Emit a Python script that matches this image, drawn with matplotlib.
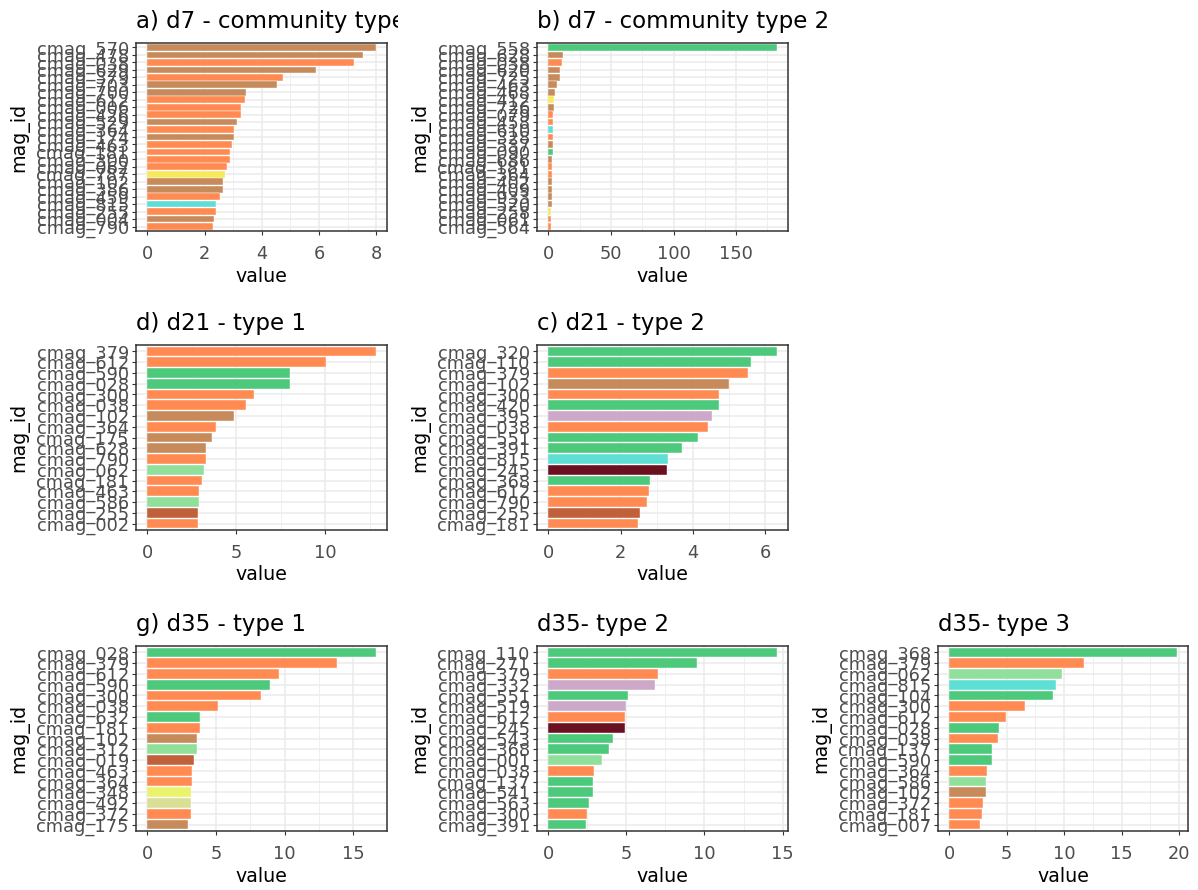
import matplotlib
matplotlib.use("Agg")
import matplotlib.pyplot as plt
from matplotlib.ticker import MultipleLocator
from matplotlib.transforms import Bbox, TransformedBbox

W, H = 1198, 890
fig = plt.figure(figsize=(W / 100, H / 100), dpi=100)
plt.rcParams['font.family'] = ['DejaVu Sans']

palette = {
    "brown": "#C68A5B", "orange": "#FF8B53", "green": "#4DC97B",
    "lightgreen": "#90E09B", "cyan": "#5EDFD3", "yellow": "#F7E95A",
    "lilac": "#CCA8C9", "maroon": "#6A1020", "sienna": "#C0613C",
    "yellowgreen": "#E9F36B", "khaki": "#D9E096",
}

# ---- a) d7 - community type 1
a_ids = ["cmag_570", "cmag_478", "cmag_038", "cmag_629", "cmag_379", "cmag_703", "cmag_700",
         "cmag_612", "cmag_006", "cmag_426", "cmag_529", "cmag_364", "cmag_174", "cmag_463",
         "cmag_181", "cmag_300", "cmag_062", "cmag_787", "cmag_102", "cmag_386", "cmag_459",
         "cmag_815", "cmag_255", "cmag_004", "cmag_790"]
a_vals = [7.98, 7.54, 7.22, 5.91, 4.75, 4.54, 3.46, 3.40, 3.29, 3.29, 3.13, 3.03, 3.03,
          2.97, 2.88, 2.88, 2.77, 2.71, 2.66, 2.66, 2.55, 2.40, 2.40, 2.34, 2.30]
a_grp = ["brown", "brown", "orange", "brown", "orange", "brown", "brown", "orange", "orange",
         "orange", "brown", "orange", "brown", "orange", "orange", "orange", "orange", "yellow",
         "brown", "brown", "orange", "cyan", "orange", "brown", "orange"]

# ---- b) d7 - community type 2
b_ids = ["cmag_558", "cmag_628", "cmag_038", "cmag_620", "cmag_725", "cmag_463", "cmag_468",
         "cmag_412", "cmag_726", "cmag_079", "cmag_458", "cmag_610", "cmag_328", "cmag_537",
         "cmag_090", "cmag_686", "cmag_181", "cmag_364", "cmag_402", "cmag_409", "cmag_933",
         "cmag_520", "cmag_258", "cmag_061", "cmag_564"]
b_vals = [182.4, 12.0, 10.5, 9.5, 9.0, 6.5, 5.5, 4.8, 4.5, 3.6, 3.5, 3.5, 3.4, 3.4, 3.3,
          3.2, 3.2, 3.1, 3.0, 3.0, 2.6, 2.5, 2.2, 2.1, 2.0]
b_grp = ["green", "brown", "orange", "brown", "brown", "brown", "brown", "yellow", "brown",
         "orange", "orange", "cyan", "orange", "brown", "green", "brown", "orange", "orange",
         "brown", "brown", "brown", "brown", "yellow", "orange", "orange"]

# ---- d) d21 - type 1
d_ids = ["cmag_379", "cmag_612", "cmag_590", "cmag_028", "cmag_300", "cmag_038", "cmag_102",
         "cmag_364", "cmag_175", "cmag_628", "cmag_790", "cmag_062", "cmag_181", "cmag_463",
         "cmag_586", "cmag_255", "cmag_002"]
d_vals = [12.84, 10.04, 8.0, 8.0, 5.98, 5.55, 4.86, 3.87, 3.61, 3.27, 3.27, 3.18, 3.10,
          2.93, 2.93, 2.84, 2.84]
d_grp = ["orange", "orange", "green", "green", "orange", "orange", "brown", "orange", "brown",
         "brown", "orange", "lightgreen", "orange", "orange", "lightgreen", "sienna", "orange"]

# ---- c) d21 - type 2
c_ids = ["cmag_320", "cmag_110", "cmag_379", "cmag_102", "cmag_300", "cmag_420", "cmag_395",
         "cmag_038", "cmag_551", "cmag_391", "cmag_815", "cmag_245", "cmag_368", "cmag_612",
         "cmag_790", "cmag_255", "cmag_181"]
c_vals = [6.31, 5.60, 5.52, 4.99, 4.73, 4.73, 4.52, 4.40, 4.14, 3.69, 3.31, 3.27, 2.81,
          2.77, 2.73, 2.53, 2.48]
c_grp = ["green", "green", "orange", "brown", "orange", "green", "lilac", "orange", "green",
         "green", "cyan", "maroon", "green", "orange", "orange", "sienna", "orange"]

# ---- g) d35 - type 1
g_ids = ["cmag_028", "cmag_379", "cmag_612", "cmag_590", "cmag_300", "cmag_038", "cmag_632",
         "cmag_181", "cmag_102", "cmag_312", "cmag_019", "cmag_463", "cmag_364", "cmag_348",
         "cmag_492", "cmag_372", "cmag_175"]
g_vals = [16.62, 13.79, 9.60, 8.95, 8.30, 5.13, 3.80, 3.80, 3.58, 3.58, 3.36, 3.24, 3.24,
          3.15, 3.15, 3.15, 2.93]
g_grp = ["green", "orange", "orange", "green", "orange", "orange", "green", "orange", "brown",
         "lightgreen", "sienna", "orange", "orange", "yellowgreen", "khaki", "orange", "brown"]

# ---- d35- type 2
e_ids = ["cmag_110", "cmag_271", "cmag_379", "cmag_332", "cmag_551", "cmag_519", "cmag_612",
         "cmag_245", "cmag_543", "cmag_368", "cmag_001", "cmag_038", "cmag_137", "cmag_541",
         "cmag_563", "cmag_300", "cmag_391"]
e_vals = [14.62, 9.51, 7.00, 6.81, 5.09, 5.00, 4.89, 4.89, 4.11, 3.91, 3.43, 2.94, 2.85,
          2.85, 2.57, 2.47, 2.38]
e_grp = ["green", "green", "orange", "lilac", "green", "lilac", "orange", "maroon", "green",
         "green", "lightgreen", "orange", "green", "green", "green", "orange", "green"]

# ---- d35- type 3
f_ids = ["cmag_368", "cmag_379", "cmag_062", "cmag_815", "cmag_104", "cmag_300", "cmag_612",
         "cmag_028", "cmag_038", "cmag_137", "cmag_590", "cmag_364", "cmag_586", "cmag_102",
         "cmag_372", "cmag_181", "cmag_007"]
f_vals = [19.80, 11.69, 9.84, 9.32, 9.06, 6.58, 4.91, 4.36, 4.21, 3.69, 3.69, 3.32, 3.17,
          3.17, 2.91, 2.80, 2.66]
f_grp = ["green", "orange", "lightgreen", "cyan", "green", "orange", "orange", "green",
         "orange", "green", "green", "orange", "lightgreen", "brown", "orange", "orange", "orange"]

titles = ["a) d7 - community type 1", "b) d7 - community type 2", "d) d21 - type 1",
          "c) d21 - type 2", "g) d35 - type 1", "d35- type 2", "d35- type 3"]


def panel(box, title, ids, vals, grps, step, clip_right=None):
    l, t, r, b = box
    ax = fig.add_axes([l / W, 1 - b / H, (r - l) / W, (b - t) / H])
    n = len(ids)
    pos = list(range(n))
    ax.barh(pos, vals, height=0.9, color=[palette[g] for g in grps],
            edgecolor="white", linewidth=0.3, zorder=2)
    ax.set_yticks(pos)
    ax.set_yticklabels(ids)
    ax.set_ylim(n - 1 + 0.6, -0.6)
    vmax = max(vals)
    ax.set_xlim(-0.05 * vmax, 1.05 * vmax)
    ax.xaxis.set_major_locator(MultipleLocator(step))
    ax.xaxis.set_minor_locator(MultipleLocator(step / 2))
    ax.set_axisbelow(True)
    ax.grid(which="major", color="#EBEBEB", lw=1.1, zorder=0)
    ax.grid(which="minor", axis="x", color="#EBEBEB", lw=0.55, zorder=0)
    for s in ax.spines.values():
        s.set_color("#333333")
        s.set_linewidth(1.1)
    ax.tick_params(which="major", length=2.7, width=0.8, color="#333333",
                   labelsize=12.8, labelcolor="#4D4D4D")
    ax.tick_params(axis="y", pad=2.5)
    ax.tick_params(axis="x", pad=7.5)
    ax.tick_params(which="minor", length=0)
    ax.set_xlabel("value", fontsize=13.7)
    ax.set_ylabel("mag_id", fontsize=13.7)
    ax.xaxis.set_label_coords(0.5, -45.0 / (b - t))
    ax.xaxis.label.set_va("center")
    ax.yaxis.set_label_coords(-117.0 / (r - l), 0.5)
    ax.yaxis.label.set_va("center")
    tt = ax.set_title(title, loc="left", fontsize=16.5, pad=10.5)
    if clip_right is not None:
        tt.set_clip_box(TransformedBbox(Bbox([[0, 0], [clip_right / W, 1]]), fig.transFigure))
        tt.set_clip_on(True)
    return ax


col = [(136, 387), (537, 788), (938, 1188)]
row = [(43, 231), (345, 530), (646, 831)]


def box(ci, ri):
    return (col[ci][0], row[ri][0], col[ci][1], row[ri][1])


panel(box(0, 0), titles[0], a_ids, a_vals, a_grp, 2, clip_right=398)
panel(box(1, 0), titles[1], b_ids, b_vals, b_grp, 50)
panel(box(0, 1), titles[2], d_ids, d_vals, d_grp, 5)
panel(box(1, 1), titles[3], c_ids, c_vals, c_grp, 2)
panel(box(0, 2), titles[4], g_ids, g_vals, g_grp, 5)
panel(box(1, 2), titles[5], e_ids, e_vals, e_grp, 5)
panel(box(2, 2), titles[6], f_ids, f_vals, f_grp, 5)

fig.savefig("out.png", dpi=100, facecolor="white")
